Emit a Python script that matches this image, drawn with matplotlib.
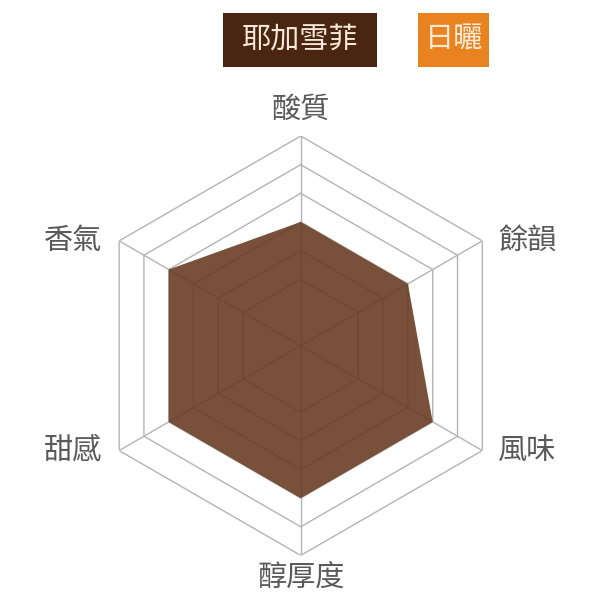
import numpy as np
import matplotlib
matplotlib.use("Agg")
import matplotlib.pyplot as plt
from matplotlib.patches import Rectangle

plt.rcParams['font.family'] = ['Noto Sans CJK TC', 'DejaVu Sans']

categories = ['酸質', '餘韻', '風味', '醇厚度', '甜感', '香氣']
values = [3, 3, 4, 4, 4, 4]
ring_levels = [1, 2, 3, 4, 5, 6]
legend_labels = ['耶加雪菲', '日曬']
legend_colors = ['#4a2511', '#e8831f']

r_min = -1.32
r_max = 6

fig = plt.figure(figsize=(6, 6), dpi=100)
ax = fig.add_axes([0.1517, 0.0743, 0.699, 0.699], projection='polar')
ax.set_theta_offset(np.pi / 2)
ax.set_theta_direction(-1)
ax.set_ylim(r_min, r_max)
ax.grid(False)
ax.spines['polar'].set_visible(False)
ax.set_xticks([])
ax.set_yticks([])
ax.patch.set_alpha(0)

n = len(categories)
angles = np.linspace(0, 2 * np.pi, n, endpoint=False)
closed = np.concatenate([angles, angles[:1]])

grid_color = '#b4b4b4'
for lvl in ring_levels:
    ax.plot(closed, [lvl] * (n + 1), color=grid_color, lw=1.0, zorder=1)
for a in angles:
    ax.plot([a, a], [r_min, r_max], color=grid_color, lw=1.0, zorder=1)

vals = values + values[:1]
ax.fill(closed, vals, color='#66391f', alpha=0.88, lw=0, zorder=2)

offsets = [(0, 26), (16, 0), (16, 0), (0, -22), (-17, 0), (-17, 0)]
aligns = [('center', 'center'), ('left', 'center'), ('left', 'center'),
          ('center', 'center'), ('right', 'center'), ('right', 'center')]
for a, lab, off, (ha, va) in zip(angles, categories, offsets, aligns):
    ax.annotate(lab, xy=(a, r_max), xytext=(off[0] * 0.72, off[1] * 0.72),
                textcoords='offset points', ha=ha, va=va,
                fontsize=21, color='#5a5a5a', fontweight='light',
                annotation_clip=False)

# legend boxes (figure pixel coords from top-left)
boxes = [(222.7, 12.7, 154.0, 54.0), (418.3, 12.7, 70.4, 54.0)]
for (x, y, w, h), lab, col in zip(boxes, legend_labels, legend_colors):
    fig.patches.append(Rectangle((x / 600, 1 - (y + h) / 600), w / 600, h / 600,
                                 transform=fig.transFigure, color=col, lw=0))
    fig.text((x + w / 2) / 600, 1 - (y + h / 2) / 600, lab, ha='center', va='center',
             fontsize=21, color='#f7ead8', fontweight='light')

fig.savefig('out.png', dpi=100)
